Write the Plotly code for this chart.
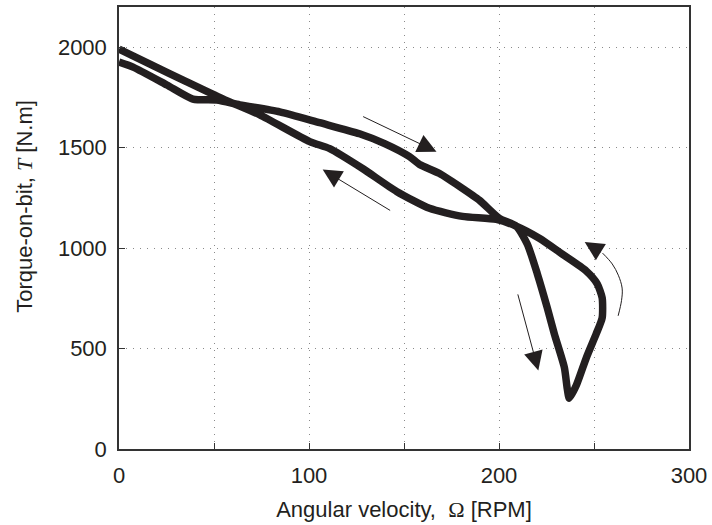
import plotly.graph_objects as go

# Forward branch (increasing speed)
omega_fwd = [0, 7.4, 25.2, 38.9, 51.5, 63.6, 84.6, 105.6, 126.6, 139.8, 152.9, 158.2,
             168.7, 179.2, 189.7, 200.2, 209.1, 214.9, 220.2, 225.4, 229.1, 234.4, 235.9, 237.0]
torque_fwd = [1926, 1901, 1812, 1742, 1737, 1713, 1678, 1624, 1569, 1520, 1455, 1416,
              1371, 1307, 1238, 1148, 1109, 1020, 871, 703, 574, 406, 302, 252]

# Return branch
omega_ret = [237.0, 240.7, 246.0, 251.2, 254.3, 254.3, 251.7, 245.9, 233.3, 221.2, 209.1,
             198.6, 180.8, 163.4, 146.1, 128.2, 110.9, 100.4, 74.1, 54.7, 35.7, 16.3, 0]
torque_ret = [252, 317, 455, 574, 653, 752, 822, 886, 970, 1049, 1109,
              1143, 1158, 1198, 1282, 1396, 1495, 1530, 1663, 1742, 1827, 1916, 1990]

# Direction arrows: (tail_x, tail_y, tip_x, tip_y)
arrows = [
    (127.7, 1658, 167.1, 1480),
    (143.5, 1183, 107.2, 1391),
    (209.7, 777, 220.7, 391),
]
# Curved arrow path (thin line) ending at arrow tip
curve_arrow_x = [262.7, 264.5, 264.8, 262.8, 259.6, 254.5]
curve_arrow_y = [663, 740, 801, 865, 921, 975]
curve_tip = (245.1, 1030)

x_ticks = [0, 100, 200, 300]
y_ticks = [0, 500, 1000, 1500, 2000]

ink = "#231f20"
grid = "#8a8a8a"
fig = go.Figure()
fig.add_trace(go.Scatter(
    x=omega_fwd + omega_ret[1:], y=torque_fwd + torque_ret[1:],
    mode="lines", line=dict(color=ink, width=7.5, shape="spline", smoothing=0.6),
    showlegend=False, hoverinfo="skip"))
fig.add_trace(go.Scatter(
    x=curve_arrow_x, y=curve_arrow_y, mode="lines",
    line=dict(color=ink, width=1, shape="spline"), showlegend=False, hoverinfo="skip"))

for tx, ty, hx, hy in arrows:
    fig.add_annotation(x=hx, y=hy, ax=tx, ay=ty, xref="x", yref="y", axref="x", ayref="y",
                       text="", showarrow=True, arrowhead=2, arrowsize=3.8, arrowwidth=1,
                       arrowcolor=ink)
fig.add_annotation(x=curve_tip[0], y=curve_tip[1], ax=curve_arrow_x[-1], ay=curve_arrow_y[-1],
                   xref="x", yref="y", axref="x", ayref="y", text="", showarrow=True,
                   arrowhead=2, arrowsize=3.8, arrowwidth=1, arrowcolor=ink)

fig.add_annotation(
    text="Torque-on-bit, <span style='font-family:Liberation Serif'><i>T</i></span> [N.m]",
    xref="paper", yref="paper", x=-0.165, y=0.55, xanchor="center", yanchor="middle",
    textangle=-90, showarrow=False, font=dict(size=22, color=ink))

axis_common = dict(showline=True, linecolor="#333333", linewidth=1.5, mirror=True,
                   ticks="inside", ticklen=6, tickcolor="#333333",
                   showgrid=True, gridcolor=grid, gridwidth=1, griddash="1px,6px",
                   zeroline=False, tickfont=dict(size=22, color=ink), ticklabelstandoff=6)

fig.update_xaxes(range=[0, 300], tickvals=x_ticks, ticktext=[str(v) for v in x_ticks],
                 minor=dict(dtick=50, showgrid=True, gridcolor=grid, griddash="1px,6px",
                            ticks="inside", ticklen=6, tickcolor="#333333"),
                 title=dict(text="Angular velocity,  <span style='font-family:Liberation Serif'>Ω</span> [RPM]",
                            font=dict(size=22, color=ink), standoff=14),
                 **axis_common)
fig.update_yaxes(range=[0, 2200], tickvals=y_ticks, ticktext=[str(v) for v in y_ticks],
                 **axis_common)

fig.update_layout(width=712, height=525, margin=dict(l=119, r=22, t=5, b=76),
                  paper_bgcolor="white", plot_bgcolor="white",
                  font=dict(family="Liberation Sans, Arial, sans-serif", color=ink))

fig.write_html("out.html", config={"displayModeBar": False},
               post_script="document.body.style.margin='0';")
